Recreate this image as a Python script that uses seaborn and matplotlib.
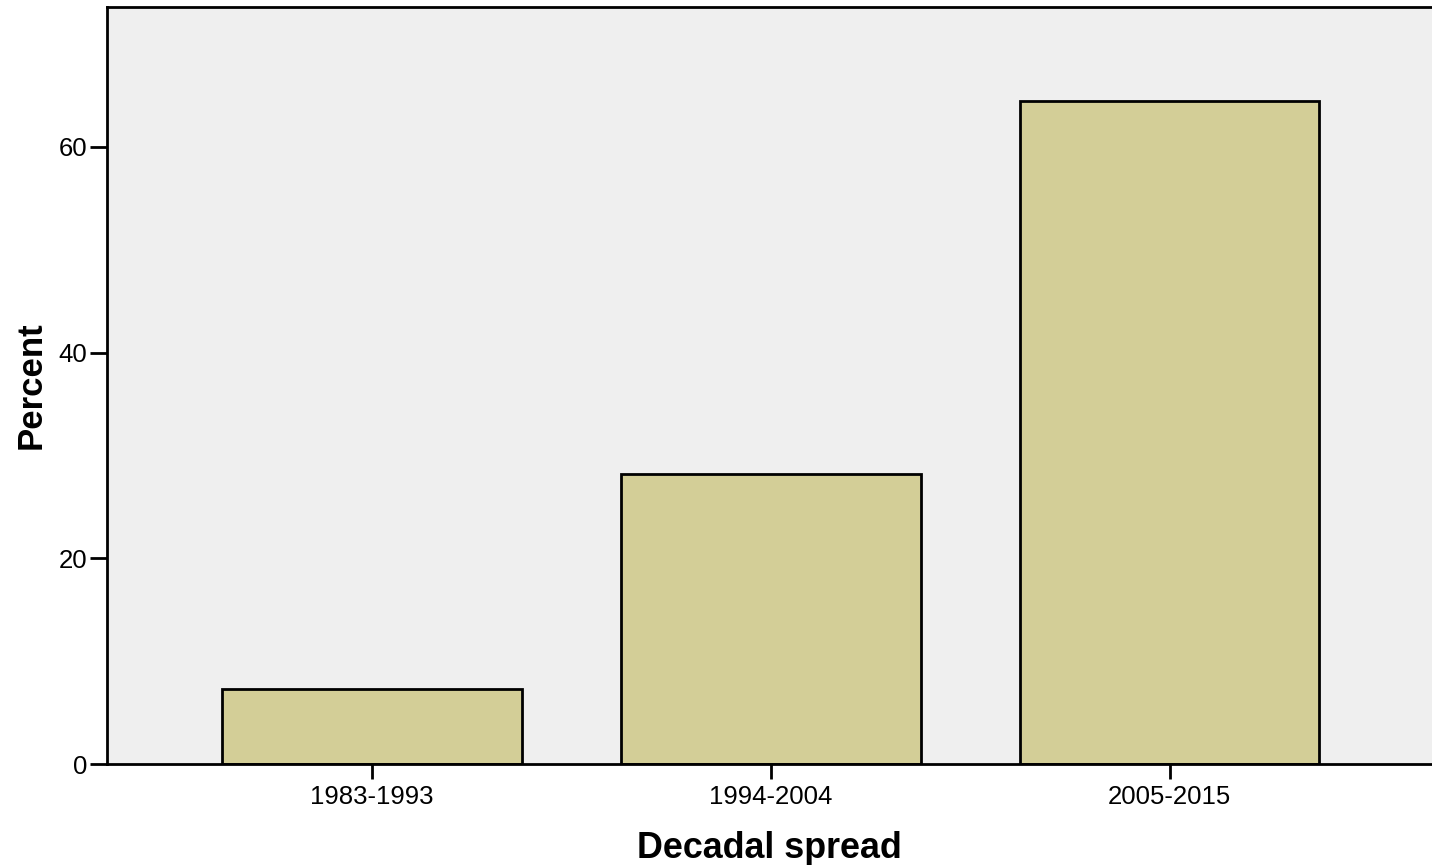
import matplotlib
matplotlib.use("Agg")
import matplotlib.pyplot as plt
import seaborn as sns
import pandas as pd

categories = ["1983-1993", "1994-2004", "2005-2015"]
percent = [7.3, 28.2, 64.5]
y_ticks = [0, 20, 40, 60]

sns.set_style("white")
plt.rcParams['font.family'] = ['Liberation Sans', 'DejaVu Sans']
plt.rcParams['text.color'] = 'black'
plt.rcParams['axes.labelcolor'] = 'black'
plt.rcParams['xtick.color'] = 'black'
plt.rcParams['ytick.color'] = 'black'

df = pd.DataFrame({"Decadal spread": categories, "Percent": percent})

fig = plt.figure(figsize=(14.32, 8.65), dpi=100)
ax = fig.add_axes([107/1432, 1 - 764/865, (1432 - 107)/1432, (764 - 7)/865])
ax.set_facecolor("#EFEFEF")

sns.barplot(data=df, x="Decadal spread", y="Percent", color="#D3CE97",
            saturation=1, width=0.75, edgecolor="black", linewidth=2, ax=ax)

ax.set_xlim(-0.664, 2.657)
ax.set_ylim(0, 73.6)
ax.set_yticks(y_ticks)
ax.set_yticklabels([str(t) for t in y_ticks])

for side in ["left", "bottom", "top"]:
    ax.spines[side].set_visible(True)
    ax.spines[side].set_color("black")
    ax.spines[side].set_linewidth(2)
ax.spines["right"].set_visible(False)

ax.tick_params(axis="y", length=12, width=2, labelsize=18.5, pad=2, left=True,
               color="black", labelcolor="black")
ax.tick_params(axis="x", length=11, width=2, labelsize=18.5, pad=4, bottom=True,
               color="black", labelcolor="black")

ax.set_xlabel("Decadal spread", fontsize=25.8, fontweight="bold", labelpad=16, color="black")
ax.set_ylabel("Percent", fontsize=25, fontweight="bold", labelpad=8, color="black")

fig.savefig("out.png", dpi=100)
